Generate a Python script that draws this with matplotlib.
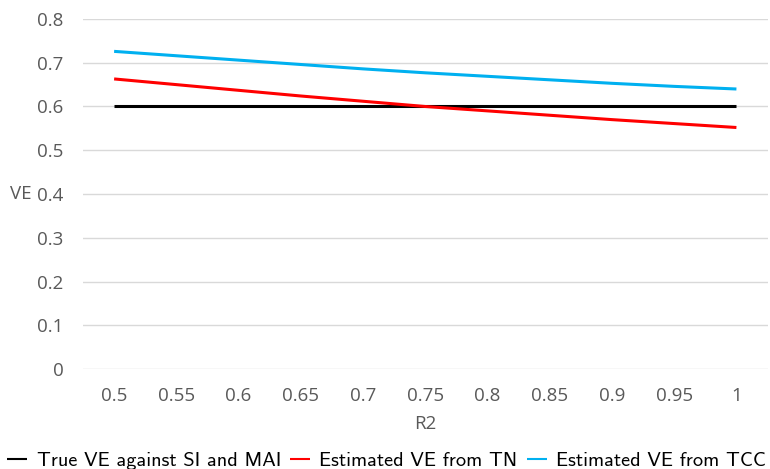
import matplotlib.pyplot as plt

r2 = [0.5, 0.55, 0.6, 0.65, 0.7, 0.75, 0.8, 0.85, 0.9, 0.95, 1]
r2_labels = ["0.5", "0.55", "0.6", "0.65", "0.7", "0.75", "0.8", "0.85", "0.9", "0.95", "1"]
true_ve = [0.6] * 11
ve_tn = [0.663, 0.650, 0.637, 0.624, 0.612, 0.600, 0.590, 0.580, 0.570, 0.561, 0.552]
ve_tcc = [0.726, 0.716, 0.706, 0.696, 0.686, 0.677, 0.669, 0.661, 0.653, 0.646, 0.640]
y_ticks = [0, 0.1, 0.2, 0.3, 0.4, 0.5, 0.6, 0.7, 0.8]

fig = plt.figure(figsize=(7.7, 4.69), dpi=100)
ax = fig.add_axes([0.1078, 0.2132, 0.889, 0.7463])

pos = list(range(len(r2)))
ax.plot(pos, true_ve, color="black", lw=2.2, label="True VE against SI and MAI", solid_capstyle="butt")
ax.plot(pos, ve_tn, color="#FF0000", lw=2.2, label="Estimated VE from TN", solid_capstyle="butt")
ax.plot(pos, ve_tcc, color="#00B0F0", lw=2.2, label="Estimated VE from TCC", solid_capstyle="butt")

ax.set_xlim(-0.5, len(r2) - 0.5)
ax.set_ylim(0, 0.8)
ax.set_yticks(y_ticks)
ax.set_yticklabels(["0"] + [f"{v:.1f}" for v in y_ticks[1:]])
ax.set_xticks(pos)
ax.set_xticklabels(r2_labels)
ax.grid(axis="y", color="#D9D9D9", lw=1)
ax.set_axisbelow(True)
for s in ax.spines.values():
    s.set_visible(False)
ax.tick_params(length=0, labelsize=13.5, labelcolor="#595959", pad=14)
ax.tick_params(axis="x", pad=13)
for lbl in ax.get_xticklabels() + ax.get_yticklabels():
    lbl.set_family("Open Sans")

ax.set_xlabel("R2", fontsize=13.5, color="#595959", family="Open Sans", labelpad=7)
ax.set_ylabel("VE", fontsize=13.5, color="#595959", family="Open Sans", rotation=0,
              va="center", ha="left")
ax.yaxis.set_label_coords(-0.106, 0.5)

leg = fig.legend(loc="lower center", bbox_to_anchor=(0.502, -0.042), ncol=3, frameon=False,
                 handlelength=1.0, handletextpad=0.45, columnspacing=0.45,
                 prop={"family": "cmss10", "size": 14.6})
for line in leg.get_lines():
    line.set_linewidth(1.5)

fig.savefig("out.png", dpi=100)
